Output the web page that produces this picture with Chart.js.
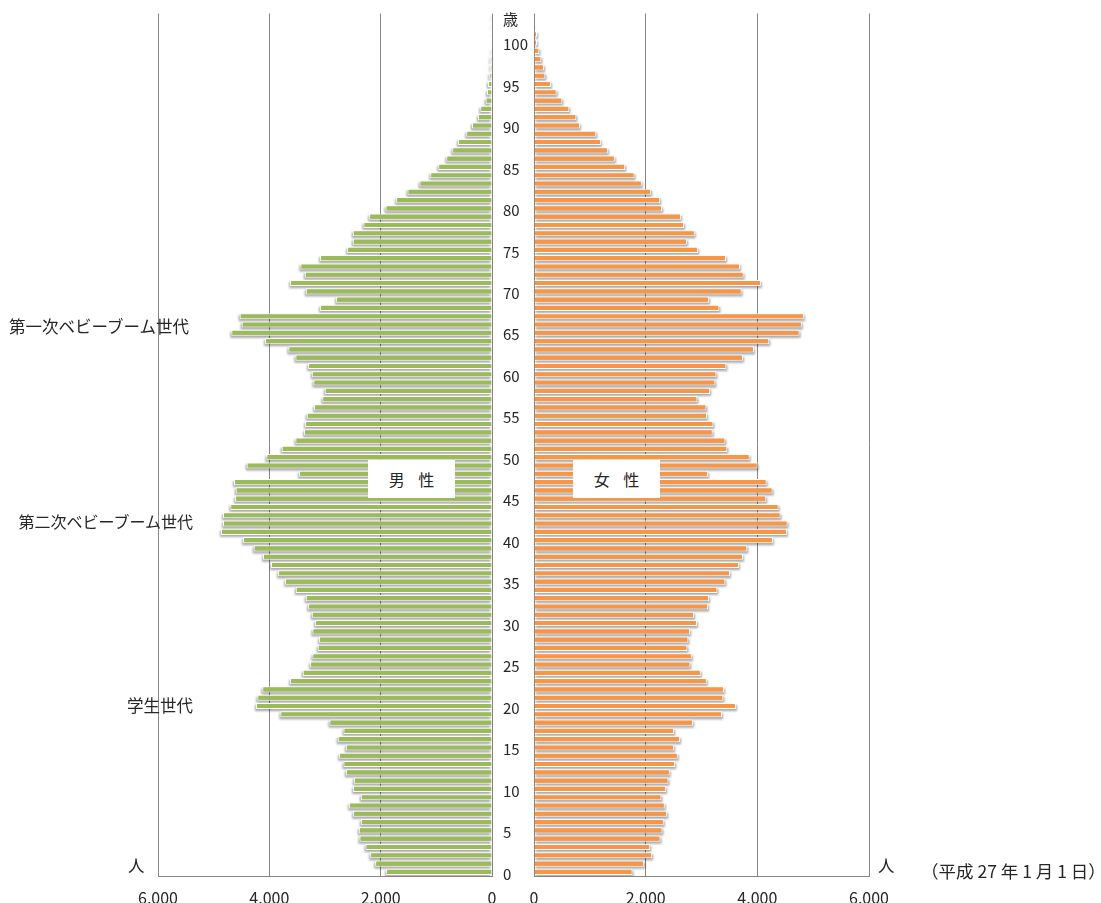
<!DOCTYPE html>
<html lang="ja">
<head>
<meta charset="utf-8">
<script src="https://cdn.jsdelivr.net/npm/chart.js@4.4.1/dist/chart.umd.min.js"></script>
<style>
  html, body { margin: 0; padding: 0; background: #fff; overflow: hidden; width: 1101px; height: 903px; }
  body { position: relative; font-family: "Noto Sans CJK JP", "Noto Sans", sans-serif; color: #262626; }
  canvas { position: absolute; top: 0; }
  #male { left: 0; }
  #female { left: 490px; }
  .note { position: absolute; font-size: 16.5px; line-height: 20px; white-space: nowrap; text-align: right; }
  .sexbox { position: absolute; top: 460px; width: 87px; height: 38px; line-height: 38px; background: #fff;
            text-align: center; font-size: 16px; letter-spacing: 5px; text-indent: 5px; }
</style>
</head>
<body>
<canvas id="male" width="510" height="915"></canvas>
<canvas id="female" width="611" height="915"></canvas>

<div class="note" style="right:912px; top:316px;">第一次ベビーブーム世代</div>
<div class="note" style="right:908px; top:511px; font-size:16px;">第二次ベビーブーム世代</div>
<div class="note" style="right:908px; top:695px;">学生世代</div>
<div class="sexbox" style="left:368px;">男 性</div>
<div class="sexbox" style="left:573px;">女 性</div>
<div class="note" style="left:128px; top:855px;">人</div>
<div class="note" style="left:878px; top:855px;">人</div>
<div class="note" style="left:921px; top:861px; font-size:17.5px;">（平成 27 年 1 月 1 日）</div>

<script>
// ===============================
// 年齢別人口（平成27年1月1日）
// ===============================

// 年齢 0〜103（一番上の区分に「歳」を表示）
const ages = [];
for (let a = 0; a <= 103; a++) ages.push(a);

// 縦軸の目盛りラベル
const ageTicks = ages.map(a => (a === 103 ? '歳' : (a % 5 === 0 && a <= 100 ? String(a) : '')));

// 男性（0歳から順に）
const male = [
  1900, 2098, 2188, 2272, 2380, 2392, 2356, 2494, 2566, 2356,
  2494, 2482, 2626, 2668, 2746, 2626, 2770, 2668, 2920, 3801,
  4239, 4215, 4125, 3627, 3399, 3267, 3225, 3130, 3106, 3225,
  3177, 3237, 3303, 3345, 3525, 3717, 3843, 3969, 4113, 4281,
  4472, 4868, 4832, 4832, 4700, 4616, 4604, 4634, 3465, 4406,
  4053, 3777, 3531, 3375, 3357, 3327, 3195, 3046, 3004, 3207,
  3237, 3303, 3531, 3657, 4077, 4682, 4496, 4532, 3088, 2800,
  3345, 3627, 3363, 3441, 3088, 2602, 2500, 2500, 2308, 2206,
  1912, 1721, 1517, 1301, 1109, 965, 821, 713, 612, 462,
  360, 252, 210, 114, 90, 72, 48, 30, 30, 18,
  10, 6, 3, 2
];

// 女性（0歳から順に）
const female = [
  1764, 1973, 2116, 2080, 2265, 2300, 2324, 2384, 2342, 2282,
  2366, 2408, 2431, 2527, 2574, 2509, 2616, 2509, 2849, 3367,
  3617, 3391, 3403, 3093, 2986, 2801, 2825, 2747, 2765, 2795,
  2920, 2866, 3117, 3135, 3284, 3427, 3510, 3671, 3743, 3820,
  4279, 4529, 4541, 4416, 4380, 4160, 4273, 4166, 3117, 4005,
  3862, 3462, 3427, 3200, 3212, 3099, 3087, 2926, 3153, 3248,
  3266, 3445, 3743, 3939, 4213, 4756, 4797, 4833, 3319, 3135,
  3719, 4064, 3754, 3689, 3439, 2938, 2741, 2878, 2688, 2634,
  2294, 2259, 2098, 1931, 1800, 1633, 1448, 1323, 1198, 1114,
  822, 757, 632, 507, 405, 304, 203, 179, 131, 95,
  54, 54, 12, 8
];

const VERDE = '#9BBB59';
const LARANJA = '#F79646';
const GRADE = '#868686';
const FONTE = '"Noto Sans CJK JP", "Noto Sans", sans-serif';

// sombra dos bares (desenhada antes das barras)
const barShadow = {
  id: 'barShadow',
  beforeDatasetsDraw(chart, args, opts) {
    const ctx = chart.ctx;
    const area = chart.chartArea;
    ctx.save();
    ctx.beginPath();
    ctx.rect(area.left, area.top, area.right - area.left, area.bottom - area.top);
    ctx.clip();
    ctx.fillStyle = 'rgba(0,0,0,0.34)';
    ctx.filter = 'blur(1px)';
    chart.getDatasetMeta(0).data.forEach(bar => {
      const p = bar.getProps(['x', 'y', 'base', 'height'], true);
      const l = Math.min(p.x, p.base), r = Math.max(p.x, p.base);
      ctx.fillRect(l + opts.dx, p.y - p.height / 2 + 2, r - l, p.height);
    });
    ctx.restore();
  }
};

function eixoX(reverso) {
  return {
    reverse: reverso,
    min: 0,
    max: 6000,
    ticks: { stepSize: 2000, padding: 12, color: '#262626', maxRotation: 0, font: { size: 16, family: FONTE } },
    grid: { color: GRADE, drawTicks: false },
    border: { color: GRADE },
    afterFit(s) { s.height = 30; }
  };
}

function dataset(valores, cor) {
  return {
    data: valores,
    backgroundColor: cor,
    borderColor: '#ffffff',
    borderWidth: 1,
    barPercentage: 0.74,
    categoryPercentage: 1
  };
}

// Gráfico masculino (esquerda)
new Chart(document.getElementById('male'), {
  type: 'bar',
  data: { labels: ages, datasets: [dataset(male, VERDE)] },
  options: {
    indexAxis: 'y',
    responsive: false,
    animation: false,
    locale: 'en-US',
    layout: { padding: { left: 158, right: 18, top: 13.5, bottom: 9 } },
    plugins: { legend: { display: false }, tooltip: { enabled: false }, barShadow: { dx: -1 } },
    scales: {
      x: eixoX(true),
      y: { display: false, reverse: true }
    }
  },
  plugins: [barShadow]
});

// Gráfico feminino (direita) — com os rótulos de idade
new Chart(document.getElementById('female'), {
  type: 'bar',
  data: { labels: ages, datasets: [dataset(female, LARANJA)] },
  options: {
    indexAxis: 'y',
    responsive: false,
    animation: false,
    locale: 'en-US',
    layout: { padding: { left: 13, right: 232, top: 13.5, bottom: 9 } },
    plugins: { legend: { display: false }, tooltip: { enabled: false }, barShadow: { dx: 1 } },
    scales: {
      x: eixoX(false),
      y: {
        reverse: true,
        position: 'left',
        grid: { display: false },
        border: { display: false },
        ticks: {
          autoSkip: false,
          crossAlign: 'far',
          padding: 0,
          labelOffset: 2,
          color: '#262626',
          font: { size: 15, family: FONTE },
          callback: v => ageTicks[v]
        },
        afterFit(s) { s.width = 31; }
      }
    }
  },
  plugins: [barShadow]
});
</script>
</body>
</html>
